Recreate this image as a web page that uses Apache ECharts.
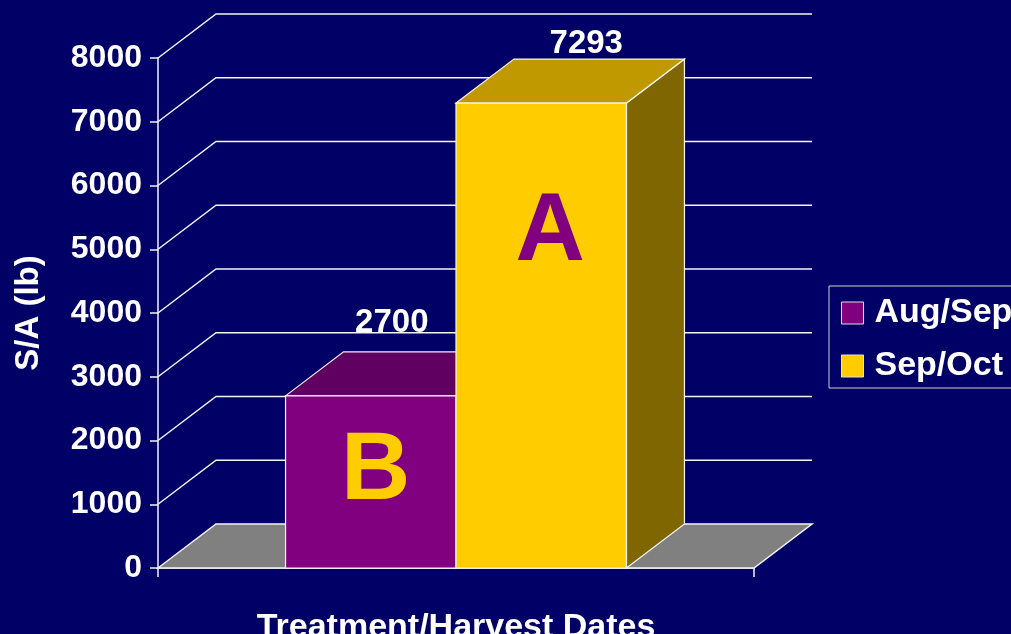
<!DOCTYPE html>
<html>
<head>
<meta charset="utf-8">
<script src="https://cdn.jsdelivr.net/npm/echarts@6/dist/echarts.min.js"></script>
<style>
  html, body { margin: 0; padding: 0; background: #000066; }
  #main { width: 1011px; height: 634px; }
</style>
</head>
<body>
<div id="main"></div>
<script>
// data
var categories = [''];
var seriesNames = ['Aug/Sep', 'Sep/Oct'];
var seriesValues = [2700, 7293];
var sigLetters = ['B', 'A'];
var yTicks = [0, 1000, 2000, 3000, 4000, 5000, 6000, 7000, 8000];

// 3d look
var DX = 58, DY = 44;
var FONT = '"Liberation Sans", Arial, sans-serif';
var barFrac = 0.286;
var barColors = [
  { front: '#800080', top: '#600060', side: '#400040', letter: '#ffcc00' },
  { front: '#ffcc00', top: '#c09900', side: '#806600', letter: '#800080' }
];
var labelOffsets = [[21, -73], [45, -59]];
var letterOffsets = [[5, 77], [9, 130]];
var edge = '#f4f4f4';

var myChart = echarts.init(document.getElementById('main'));

// back wall gridlines + floor
function renderGrid(params, api) {
  var cs = params.coordSys;
  var p = api.coord([0, api.value(1)]);
  var x0 = cs.x, x1 = cs.x + cs.width, y = p[1];
  if (api.value(1) === 0) {
    return {
      type: 'polygon',
      shape: { points: [[x0, y], [x0 + DX, y - DY], [x1 + DX, y - DY], [x1, y]] },
      style: { fill: '#808080', stroke: edge, lineWidth: 1.5 }
    };
  }
  return {
    type: 'polyline',
    shape: { points: [[x0, y], [x0 + DX, y - DY], [x1 + DX, y - DY]] },
    style: { fill: null, stroke: edge, lineWidth: 1.5 }
  };
}

function makeBar(i) {
  return function (params, api) {
    var cs = params.coordSys;
    var base = api.coord([api.value(0), 0]);
    var top = api.coord([api.value(0), api.value(1)]);
    var bw = cs.width * barFrac;
    var x0 = i === 0 ? base[0] - bw : base[0];
    var x1 = x0 + bw;
    var yb = base[1], yt = top[1];
    var c = barColors[i];
    var cx = (x0 + x1) / 2;
    return {
      type: 'group',
      children: [
        {
          type: 'polygon',
          shape: { points: [[x1, yb], [x1 + DX, yb - DY], [x1 + DX, yt - DY], [x1, yt]] },
          style: { fill: c.side, stroke: edge, lineWidth: 1.2 }
        },
        {
          type: 'polygon',
          shape: { points: [[x0, yt], [x0 + DX, yt - DY], [x1 + DX, yt - DY], [x1, yt]] },
          style: { fill: c.top, stroke: edge, lineWidth: 1.2 }
        },
        {
          type: 'rect',
          shape: { x: x0, y: yt, width: bw, height: yb - yt },
          style: { fill: c.front, stroke: edge, lineWidth: 1.2 }
        },
        {
          type: 'text',
          x: cx + letterOffsets[i][0], y: yt + letterOffsets[i][1],
          style: {
            text: sigLetters[i], fill: c.letter, font: 'bold 96px ' + FONT,
            align: 'center', verticalAlign: 'middle'
          }
        },
        {
          type: 'text',
          x: cx + labelOffsets[i][0], y: yt + labelOffsets[i][1],
          style: {
            text: String(api.value(1)), fill: '#ffffff', font: 'bold 33px ' + FONT,
            align: 'center', verticalAlign: 'middle'
          }
        }
      ]
    };
  };
}

var series = [{
  type: 'custom',
  renderItem: renderGrid,
  data: yTicks.map(function (v) { return [0, v]; }),
  clip: false,
  silent: true,
  z: 1
}];
seriesNames.forEach(function (name, i) {
  series.push({
    name: name,
    type: 'custom',
    renderItem: makeBar(i),
    data: [[0, seriesValues[i]]],
    itemStyle: { color: barColors[i].front },
    clip: false,
    z: 3 + i
  });
});

var option = {
  backgroundColor: '#000066',
  animation: false,
  grid: { left: 158, right: 257, top: 58, bottom: 66, containLabel: false, outerBoundsMode: 'none' },
  legend: {
    orient: 'vertical',
    left: 829,
    top: 286,
    padding: [10, 12, 5, 12],
    itemGap: 19,
    itemWidth: 22,
    itemHeight: 22,
    borderColor: '#d0d0d0',
    borderWidth: 1,
    textStyle: { color: '#ffffff', fontFamily: FONT, fontWeight: 'bold', fontSize: 34, padding: [0, 0, 0, 6] },
    data: seriesNames.map(function (n, i) {
      return { name: n, icon: 'rect', itemStyle: { color: barColors[i].front, borderColor: '#e0e0e0', borderWidth: 1 } };
    })
  },
  xAxis: {
    type: 'category',
    data: categories,
    boundaryGap: true,
    name: 'Treatment/Harvest Dates',
    nameLocation: 'middle',
    nameGap: 43,
    nameTextStyle: { color: '#ffffff', fontFamily: FONT, fontWeight: 'bold', fontSize: 34 },
    axisLine: { lineStyle: { color: edge, width: 1.5 } },
    axisTick: { show: true, length: 9, interval: 0, lineStyle: { color: edge, width: 1.5 } },
    axisLabel: { show: false },
    splitLine: { show: false }
  },
  yAxis: {
    type: 'value',
    min: 0,
    max: 8000,
    interval: 1000,
    name: 'S/A (lb)',
    nameLocation: 'middle',
    nameGap: 113,
    nameTextStyle: { color: '#ffffff', fontFamily: FONT, fontWeight: 'bold', fontSize: 33 },
    axisLine: { show: true, lineStyle: { color: edge, width: 1.5 } },
    axisTick: { show: true, length: 8, lineStyle: { color: edge, width: 1.5 } },
    axisLabel: {
      color: '#ffffff', fontFamily: FONT, fontWeight: 'bold', fontSize: 32, margin: 16,
      padding: [6, 0, 0, 0],
      formatter: function (v) { return String(v); }
    },
    splitLine: { show: false }
  },
  series: series
};

myChart.setOption(option);
</script>
</body>
</html>
